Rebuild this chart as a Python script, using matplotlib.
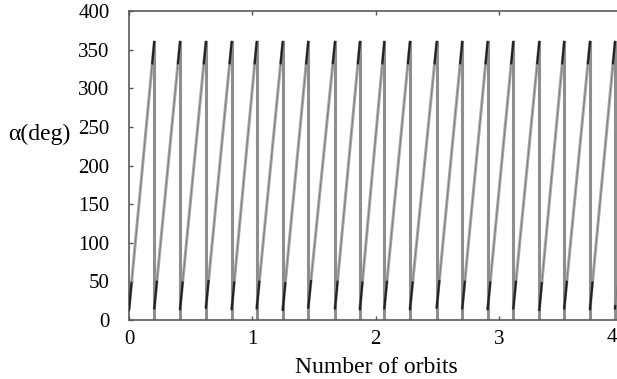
import numpy as np
import matplotlib
matplotlib.use("Agg")
import matplotlib.pyplot as plt

# orbit numbers where alpha wraps from 360 back to ~0
wrap_orbits = [0.205, 0.414, 0.624, 0.833, 1.036, 1.247, 1.454, 1.671, 1.873,
               2.071, 2.279, 2.496, 2.703, 2.909, 3.117, 3.328, 3.530, 3.739, 3.942]
alpha_low = [13, 15, 14, 16, 14, 15, 13, 16, 15, 14,
             15, 14, 16, 15, 14, 15, 13, 15, 14, 15]
alpha_high = 360

plt.rcParams['font.family'] = ['Liberation Serif', 'DejaVu Serif']

fig = plt.figure(figsize=(6.17, 3.79), dpi=100)
ax = fig.add_axes([129/617, 59/379, 488/617, 309/379])

starts = [0.0] + wrap_orbits
ends = wrap_orbits + [3.96]

#ramps
for i in range(len(starts)):
    x0, x1 = starts[i], ends[i]
    lo = alpha_low[i]
    frac = 1.0 if i < len(wrap_orbits) else (x1 - x0) / (wrap_orbits[1] - wrap_orbits[0])
    hi = lo + (alpha_high - lo) * frac
    ax.plot([x0, x1], [lo, hi], color='#ababab', lw=2.2, solid_capstyle='butt', zorder=2)
    ax.plot([x0, x1], [lo, hi], color='#777777', lw=0.6, zorder=3)
    # dark clusters near both ends of each ramp
    ax.plot([x0, x0 + 0.1*(x1-x0)], [lo, lo + 0.1*(hi-lo)], color='#222222', lw=1.6, zorder=4)
    if i < len(wrap_orbits):
        ax.plot([x1 - 0.08*(x1-x0), x1], [hi - 0.08*(hi-lo), hi], color='#222222', lw=1.6, zorder=4)

#wrap lines
for w in wrap_orbits:
    ax.plot([w, w], [0, alpha_high], color='#8e8e8e', lw=2.2, zorder=2)

ax.set_xlim(0, 3.958)
ax.set_ylim(0, 400)
ax.set_xticks([0, 1, 2, 3])
ax.set_yticks(np.arange(0, 401, 50))
ax.tick_params(direction='in', length=3, width=1, colors='#555555', labelcolor='black',
               labelsize=15, top=True)
ax.tick_params(axis='y', pad=14)
ax.tick_params(axis='x', pad=7)
ax.text(1.0, -0.027, '4', transform=ax.transAxes, ha='right', va='top', fontsize=15)

for s in ['left', 'bottom', 'top']:
    ax.spines[s].set_color('#5a5a5a')
    ax.spines[s].set_linewidth(1.2)
ax.spines['right'].set_visible(False)

ax.set_xlabel('Number of orbits', fontsize=17)
ax.xaxis.set_label_coords(0.506, -0.12, transform=ax.transAxes)
ax.xaxis.label.set_va('top')
fig.text(8/617, 1 - 134/379, 'α(deg)', ha='left', va='center', fontsize=17)

fig.savefig('out.png', dpi=100)
